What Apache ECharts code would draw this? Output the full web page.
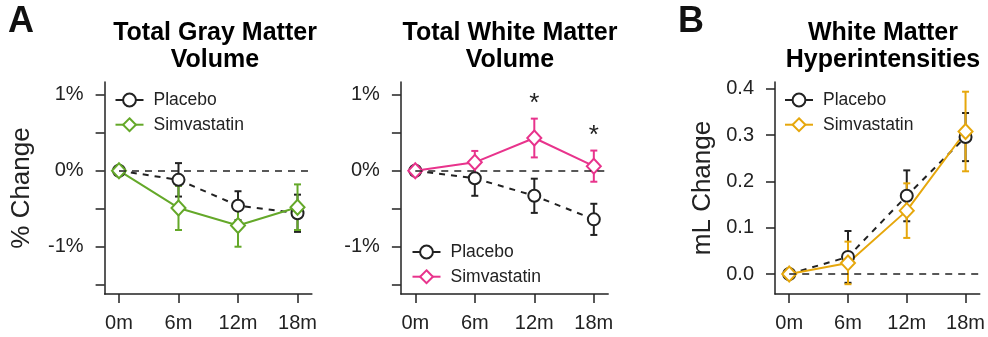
<!DOCTYPE html>
<html>
<head>
<meta charset="utf-8">
<script src="https://cdn.jsdelivr.net/npm/echarts@6/dist/echarts.min.js"></script>
<style>html,body{margin:0;padding:0;background:#fff}#c{width:988px;height:337px}</style>
</head>
<body>
<div id="c"></div>
<script>
// ---- data ----
const months = [0, 6, 12, 18];
const monthLabels = ['0m', '6m', '12m', '18m'];
const gmPlacebo = [0, -0.12, -0.46, -0.56];
const gmPlaceboErr = [0, 0.22, 0.19, 0.245];
const gmSimva = [0, -0.49, -0.72, -0.48];
const gmSimvaErr = [0, 0.29, 0.28, 0.30];
const wmPlacebo = [0, -0.10, -0.33, -0.64];
const wmPlaceboErr = [0, 0.23, 0.225, 0.205];
const wmSimva = [0, 0.11, 0.43, 0.06];
const wmSimvaErr = [0, 0.15, 0.255, 0.205];
const wmSignificant = [false, false, true, true];
const wmhPlacebo = [0, 0.037, 0.169, 0.296];
const wmhPlaceboErr = [0, 0.056, 0.055, 0.052];
const wmhSimva = [0, 0.024, 0.137, 0.308];
const wmhSimvaErr = [0, 0.046, 0.059, 0.086];
const pctTicks = [-1.5, -1, -0.5, 0, 0.5, 1];
const pctLabels = [-1, 0, 1];
const mlTicks = [0, 0.1, 0.2, 0.3, 0.4];
const titles = ['Total Gray Matter\nVolume', 'Total White Matter\nVolume', 'White Matter\nHyperintensities'];

const FONT = 'Liberation Sans, Arial, Helvetica, sans-serif';
const BLACK = '#222222';
const GREEN = '#64a829';
const PINK = '#e8338c';
const ORANGE = '#e6a70c';
const XMIN = -1.45, XMAX = 19.45;

const chart = echarts.init(document.getElementById('c'), null, {renderer: 'canvas'});

function pts(vals) { return months.map((m, i) => [m, vals[i]]); }
function errPts(vals, errs) { return months.map((m, i) => [m, vals[i], errs[i]]); }

function errSeries(idx, vals, errs, color, extra) {
  return Object.assign({
    type: 'custom', xAxisIndex: idx, yAxisIndex: idx, silent: true,
    data: errPts(vals, errs),
    encode: {x: 0, y: 1},
    renderItem: function (params, api) {
      const x = api.value(0), y = api.value(1), e = api.value(2);
      if (!e) return null;
      const top = api.coord([x, y + e]);
      const bot = api.coord([x, y - e]);
      const hw = 3.5;
      const st = {stroke: color, lineWidth: 2};
      return {type: 'group', children: [
        {type: 'line', shape: {x1: top[0], y1: top[1], x2: bot[0], y2: bot[1]}, style: st},
        {type: 'line', shape: {x1: top[0] - hw, y1: top[1], x2: top[0] + hw, y2: top[1]}, style: st},
        {type: 'line', shape: {x1: bot[0] - hw, y1: bot[1], x2: bot[0] + hw, y2: bot[1]}, style: st}
      ]};
    }
  }, extra || {});
}

function zeroLine() {
  return {
    silent: true, symbol: ['none', 'none'], label: {show: false},
    lineStyle: {type: [7, 6], color: BLACK, width: 1.5},
    emphasis: {disabled: true},
    data: [[{coord: [0, 0]}, {coord: [XMAX, 0]}]]
  };
}

// dashed connecting line (not in legend)
function dashedLine(idx, vals, color) {
  return {
    type: 'line', xAxisIndex: idx, yAxisIndex: idx, silent: true,
    data: pts(vals), symbol: 'none', color: color,
    lineStyle: {color: color, width: 2, type: [6, 6]},
    emphasis: {disabled: true}
  };
}

function lineSeries(idx, name, vals, color, isPlacebo) {
  return {
    type: 'line', name: name, xAxisIndex: idx, yAxisIndex: idx,
    data: pts(vals),
    symbol: isPlacebo ? 'emptyCircle' : 'emptyDiamond',
    symbolSize: isPlacebo ? 12 : [14, 15],
    showAllSymbol: true,
    itemStyle: {color: color, borderColor: color, borderWidth: 2},
    lineStyle: {color: color, width: isPlacebo ? 0 : 2, type: 'solid'},
    color: color,
    emphasis: {disabled: true}
  };
}

const grids = [
  {left: 104.6, top: 82, width: 207.3, height: 212},
  {left: 400.9, top: 82, width: 207.3, height: 212},
  {left: 775, top: 82, width: 206.7, height: 212}
];

const axisCommon = {
  axisLine: {show: true, onZero: false, lineStyle: {color: BLACK, width: 1.5}},
  axisTick: {show: true, length: 9, lineStyle: {color: BLACK, width: 1.5}},
  splitLine: {show: false},
  axisLabel: {color: BLACK, fontFamily: FONT, fontSize: 20}
};

function xAxis(idx) {
  return echarts.util.merge({
    type: 'value', gridIndex: idx, min: XMIN, max: XMAX,
    axisTick: {customValues: months},
    axisLabel: {customValues: months, margin: 19,
      formatter: v => monthLabels[months.indexOf(v)]}
  }, JSON.parse(JSON.stringify(axisCommon)), false);
}

function yPct(idx, withName) {
  const a = echarts.util.merge({
    type: 'value', gridIndex: idx, min: -1.622, max: 1.167,
    axisTick: {customValues: pctTicks},
    axisLabel: {customValues: pctLabels, margin: 21, formatter: v => v + '%'}
  }, JSON.parse(JSON.stringify(axisCommon)), false);
  if (withName) Object.assign(a, {name: '% Change', nameLocation: 'middle', nameGap: 70,
    nameTextStyle: {fontFamily: FONT, fontSize: 26, color: BLACK}});
  return a;
}

const yMl = echarts.util.merge({
  type: 'value', gridIndex: 2, min: -0.0432, max: 0.415,
  axisTick: {customValues: mlTicks},
  axisLabel: {customValues: mlTicks, margin: 21, formatter: v => v.toFixed(1)},
  name: 'mL Change', nameLocation: 'middle', nameGap: 59,
  nameTextStyle: {fontFamily: FONT, fontSize: 26, color: BLACK}
}, JSON.parse(JSON.stringify(axisCommon)), false);

function legend(names, left, top) {
  return {
    orient: 'vertical', left: left, top: top, data: names, padding: 0,
    itemWidth: 28, itemHeight: 16, itemGap: 6.7,
    selectedMode: false,
    formatter: n => n.split('#')[0],
    lineStyle: {width: 2},
    textStyle: {fontFamily: FONT, fontSize: 17.5, color: BLACK, padding: [0, 0, 0, 5]}
  };
}

const titleStyle = {fontFamily: FONT, fontSize: 25, fontWeight: 'bold', color: '#000', lineHeight: 27};

const option = {
  animation: false,
  title: [
    {text: 'A', left: 3, top: -1, textStyle: {fontFamily: FONT, fontSize: 36, fontWeight: 'bold', color: '#111'}},
    {text: 'B', left: 673, top: -1, textStyle: {fontFamily: FONT, fontSize: 36, fontWeight: 'bold', color: '#111'}},
    {text: titles[0], left: 210, top: 15, textAlign: 'center', textStyle: titleStyle},
    {text: titles[1], left: 505, top: 15, textAlign: 'center', textStyle: titleStyle},
    {text: titles[2], left: 878, top: 15, textAlign: 'center', textStyle: titleStyle}
  ],
  legend: [
    legend(['Placebo#1', 'Simvastatin#1'], 114.5, 91),
    legend(['Placebo#2', 'Simvastatin#2'], 411.5, 243),
    legend(['Placebo#3', 'Simvastatin#3'], 784, 91)
  ],
  grid: grids,
  xAxis: [xAxis(0), xAxis(1), xAxis(2)],
  yAxis: [yPct(0, true), yPct(1, false), yMl],
  series: [
    errSeries(0, gmPlacebo, gmPlaceboErr, BLACK, {markLine: zeroLine()}),
    dashedLine(0, gmPlacebo, BLACK),
    lineSeries(0, 'Placebo#1', gmPlacebo, BLACK, true),
    errSeries(0, gmSimva, gmSimvaErr, GREEN),
    lineSeries(0, 'Simvastatin#1', gmSimva, GREEN, false),

    errSeries(1, wmPlacebo, wmPlaceboErr, BLACK, {markLine: zeroLine()}),
    dashedLine(1, wmPlacebo, BLACK),
    lineSeries(1, 'Placebo#2', wmPlacebo, BLACK, true),
    errSeries(1, wmSimva, wmSimvaErr, PINK),
    lineSeries(1, 'Simvastatin#2', wmSimva, PINK, false),
    {
      type: 'custom', xAxisIndex: 1, yAxisIndex: 1, silent: true,
      data: months.map((m, i) => [m, wmSimva[i] + wmSimvaErr[i], wmSignificant[i] ? 1 : 0]),
      encode: {x: 0, y: 1},
      renderItem: function (params, api) {
        if (!api.value(2)) return null;
        const p = api.coord([api.value(0), api.value(1)]);
        return {type: 'text', x: p[0], y: p[1] - 15,
          style: {text: '*', fontSize: 26, fontFamily: FONT, fill: BLACK, align: 'center', verticalAlign: 'middle'}};
      }
    },

    errSeries(2, wmhPlacebo, wmhPlaceboErr, BLACK, {markLine: zeroLine()}),
    dashedLine(2, wmhPlacebo, BLACK),
    lineSeries(2, 'Placebo#3', wmhPlacebo, BLACK, true),
    errSeries(2, wmhSimva, wmhSimvaErr, ORANGE),
    lineSeries(2, 'Simvastatin#3', wmhSimva, ORANGE, false)
  ]
};
chart.setOption(option);
</script>
</body>
</html>
